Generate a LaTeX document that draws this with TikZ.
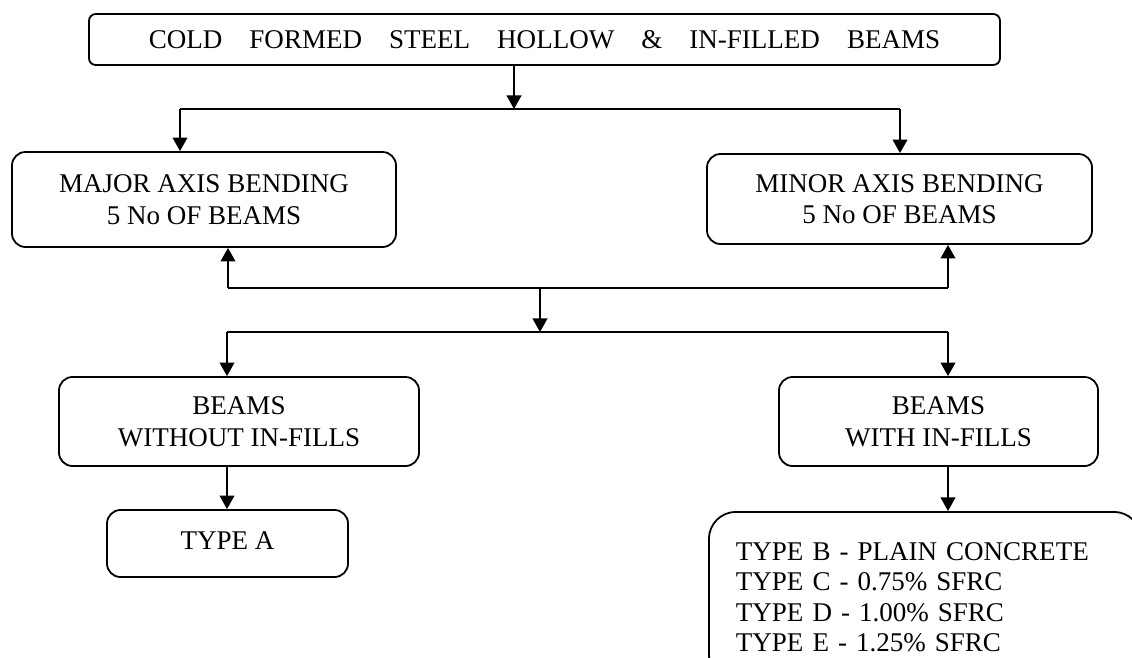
\documentclass[tikz,border=0pt]{standalone}
\usepackage{fontspec}
\setmainfont{Liberation Serif}
\usetikzlibrary{arrows.meta}
\newcommand{\pxu}{0.444pt}
\tikzset{
  box/.style={draw,line width=0.8pt,rounded corners=6pt,align=center,
    font={\fontsize{12pt}{14pt}\selectfont},inner sep=0pt},
  arr/.style={-{Triangle[length=6pt,width=6.5pt]}},
  link/.style={line width=0.8pt}
}
\begin{document}
\begin{tikzpicture}[x=\pxu,y=-\pxu]
 \path[use as bounding box,clip] (0,0) rectangle (1132,657);
 \node[box,rounded corners=3pt,minimum width={911*\pxu},minimum height={51*\pxu}] (top) at (544.5,39.5)
   {COLD\quad FORMED\quad STEEL\quad HOLLOW\quad \&\quad IN-FILLED\quad BEAMS};
 \node[box,minimum width={384*\pxu},minimum height={95*\pxu}] (major) at (204,199.5)
   {MAJOR AXIS BENDING\\5 No OF BEAMS};
 \node[box,minimum width={385*\pxu},minimum height={90*\pxu}] (minor) at (899.5,199)
   {MINOR AXIS BENDING\\5 No OF BEAMS};
 \node[box,minimum width={360*\pxu},minimum height={89*\pxu}] (without) at (239,421.5)
   {BEAMS\\WITHOUT IN-FILLS};
 \node[box,minimum width={319*\pxu},minimum height={89*\pxu}] (with) at (938.5,421.5)
   {BEAMS\\WITH IN-FILLS};
 \node[box,minimum width={241*\pxu},minimum height={67*\pxu},text depth=3pt] (typea) at (227.5,543.5)
   {TYPE A};
 \node[box,rounded corners=12pt,anchor=north west,inner xsep=12pt,inner ysep=13.5pt,
   font={\fontsize{12pt}{13.5pt}\selectfont},text width={378*\pxu},align=left] (types) at (708,511)
   {TYPE B - PLAIN CONCRETE\\TYPE C - 0.75\% SFRC\\TYPE D - 1.00\% SFRC\\TYPE E - 1.25\% SFRC};
 \coordinate (j1) at (514,109);
 \coordinate (j1l) at (180,109);
 \coordinate (j1r) at (900,109);
 \coordinate (j2l) at (228,288);
 \coordinate (j2m) at (540,288);
 \coordinate (j2r) at (948,288);
 \coordinate (j3l) at (227,332);
 \coordinate (j3m) at (540,332);
 \coordinate (j3r) at (948,332);
 \draw[link,arr] (top.south -| j1) -- (j1);
 \draw[link] (j1l) -- (j1r);
 \draw[link,arr] (j1l) -- (j1l |- major.north);
 \draw[link,arr] (j1r) -- (j1r |- minor.north);
 \draw[link] (j2l) -- (j2r);
 \draw[link,arr] (j2l) -- (j2l |- major.south);
 \draw[link,arr] (j2r) -- (j2r |- minor.south);
 \draw[link,arr] (j2m) -- (j3m);
 \draw[link] (j3l) -- (j3r);
 \draw[link,arr] (j3l) -- (j3l |- without.north);
 \draw[link,arr] (j3r) -- (j3r |- with.north);
 \draw[link,arr] (without.south -| j3l) -- (j3l |- typea.north);
 \draw[link,arr] (with.south -| j3r) -- (j3r |- types.north);
\end{tikzpicture}
\end{document}
